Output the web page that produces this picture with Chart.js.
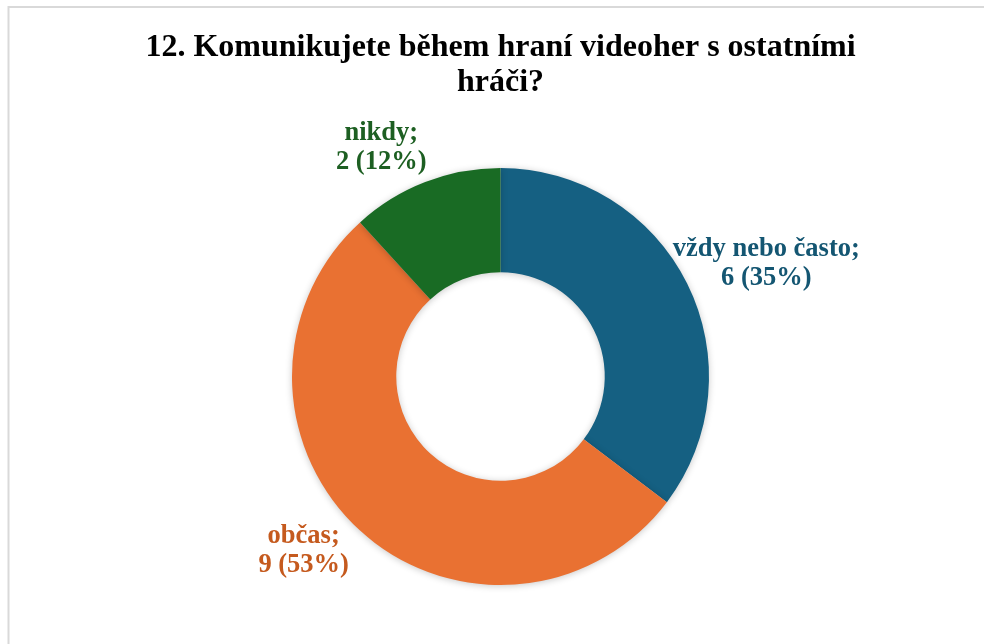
<!DOCTYPE html>
<html>
<head>
<meta charset="utf-8">
<script src="https://cdn.jsdelivr.net/npm/chart.js@4.4.1/dist/chart.umd.min.js"></script>
<style>
  html, body { margin: 0; padding: 0; background: #ffffff; }
  #wrap { width: 984px; height: 644px; position: relative; }
</style>
</head>
<body>
<div id="wrap"><canvas id="c" width="984" height="644"></canvas></div>
<script>
const titleLines = ['12. Komunikujete během hraní videoher s ostatními', 'hráči?'];
const categories = ['vždy nebo často', 'občas', 'nikdy'];
const counts = [6, 9, 2];
const sliceColors = ['#156082', '#E97132', '#196B24'];
const labelColors = ['#145672', '#C55A1E', '#1D5F22'];

const total = counts.reduce((a, b) => a + b, 0);

const frameAndLabels = {
  id: 'frameAndLabels',
  beforeDraw(chart) {
    const ctx = chart.ctx;
    ctx.save();
    ctx.fillStyle = '#ffffff';
    ctx.fillRect(0, 0, chart.width, chart.height);
    ctx.strokeStyle = '#d9d9d9';
    ctx.lineWidth = 2;
    ctx.strokeRect(8.5, 7, chart.width + 20, chart.height + 20);
    ctx.restore();
  },
  beforeDatasetDraw(chart) {
    const ctx = chart.ctx;
    ctx.save();
    ctx.shadowColor = 'rgba(0,0,0,0.22)';
    ctx.shadowBlur = 7;
    ctx.shadowOffsetX = 0;
    ctx.shadowOffsetY = 1;
  },
  afterDatasetDraw(chart) {
    chart.ctx.restore();
  },
  afterDatasetsDraw(chart, args, opts) {
    const ctx = chart.ctx;
    const meta = chart.getDatasetMeta(0);
    ctx.save();
    ctx.font = opts.font;
    ctx.textAlign = 'center';
    ctx.textBaseline = 'middle';
    meta.data.forEach((arc, i) => {
      const p = arc.getProps(['x', 'y', 'startAngle', 'endAngle', 'outerRadius'], true);
      const place = opts.placement[i];
      const a = (p.startAngle + p.endAngle) / 2 + place.dAngle * Math.PI / 180;
      const r = p.outerRadius * place.dist;
      const cx = p.x + Math.cos(a) * r;
      const cy = p.y + Math.sin(a) * r + opts.dy;
      const v = counts[i];
      const pct = Math.round(v / total * 100);
      const lines = [categories[i] + ';', v + ' (' + pct + '%)'];
      ctx.fillStyle = labelColors[i];
      const lh = opts.lineHeight;
      lines.forEach((t, k) => {
        ctx.fillText(t, cx, cy + (k - (lines.length - 1) / 2) * lh);
      });
    });
    ctx.restore();
  }
};

new Chart(document.getElementById('c'), {
  type: 'doughnut',
  data: {
    labels: categories,
    datasets: [{
      data: counts,
      backgroundColor: sliceColors,
      borderWidth: 0,
      hoverOffset: 0
    }]
  },
  options: {
    responsive: false,
    animation: false,
    cutout: '50%',
    layout: { padding: { left: 17, right: 0, top: 0, bottom: 59 } },
    plugins: {
      legend: { display: false },
      tooltip: { enabled: false },
      title: {
        display: true,
        text: titleLines,
        color: '#000000',
        font: { family: '"Liberation Serif", "Times New Roman", serif', size: 32, weight: 'bold', lineHeight: 1.1 },
        padding: { top: 30.4, bottom: 67.2 }
      },
      frameAndLabels: {
        font: 'bold 26.5px "Liberation Serif", "Times New Roman", serif',
        lineHeight: 29,
        dy: 3,
        placement: [
          { dAngle: 3, dist: 1.39 },
          { dAngle: 6.7, dist: 1.25 },
          { dAngle: -6.05, dist: 1.25 }
        ]
      }
    }
  },
  plugins: [frameAndLabels]
});
</script>
</body>
</html>
